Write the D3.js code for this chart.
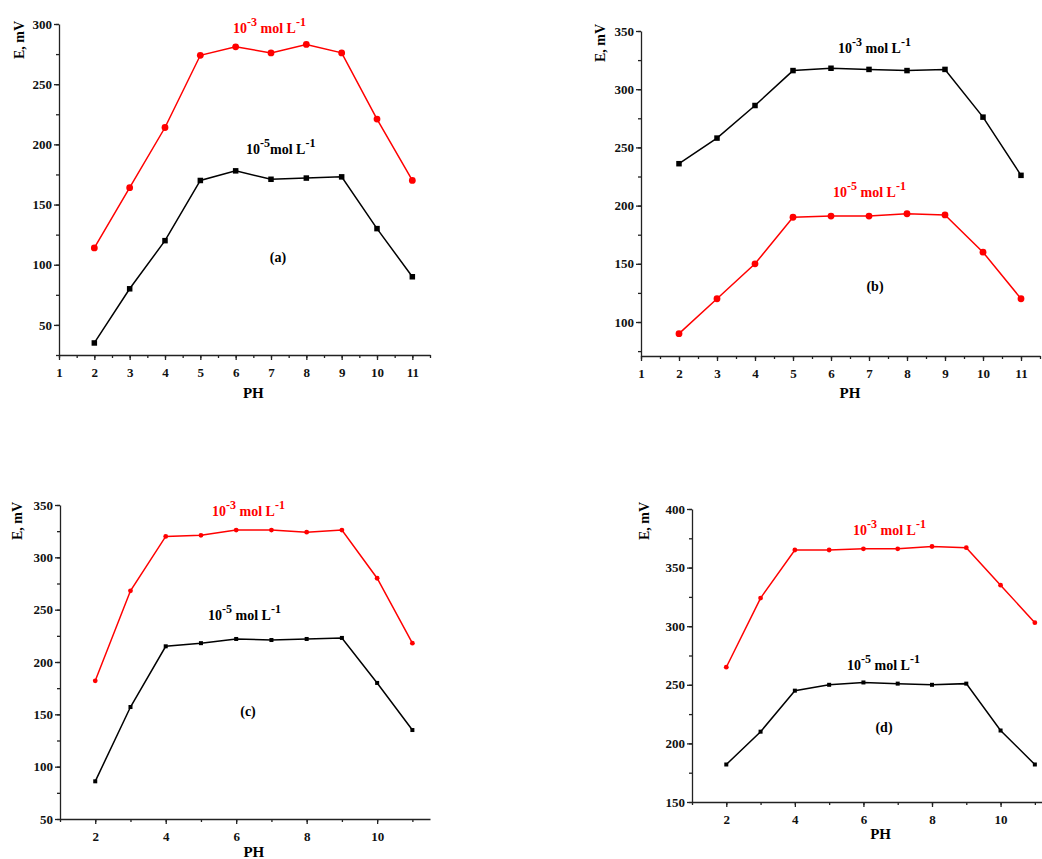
<!DOCTYPE html>
<html>
<head>
<meta charset="utf-8">
<script src="https://cdn.jsdelivr.net/npm/d3@7"></script>
<style>
    body { margin: 0; background: #fff; }
    svg { display: block; font-family: "Liberation Serif", "Times New Roman", serif; font-weight: bold; }
    .axis path, .axis line { stroke: #222; stroke-width: 1.3; }
    .axis text { font-size: 13px; font-weight: bold; fill: #111; font-family: "Liberation Serif", serif; }
</style>
</head>
<body>
<svg id="chart" width="1042" height="859"></svg>
<script>
const ph = [2, 3, 4, 5, 6, 7, 8, 9, 10, 11];

// panel (a)
const aHigh = [114, 164, 214, 274, 281, 276, 283, 276, 221, 170];
const aLow = [35, 80, 120, 170, 178, 171, 172, 173, 130, 90];
// panel (b)
const bHigh = [236, 258, 286, 316, 318, 317, 316, 317, 276, 226];
const bLow = [90, 120, 150, 190, 191, 191, 193, 192, 160, 120];
// panel (c)
const cHigh = [182, 268, 320, 321, 326, 326, 324, 326, 280, 218];
const cLow = [86, 157, 215, 218, 222, 221, 222, 223, 180, 135];
// panel (d)
const dHigh = [265, 324, 365, 365, 366, 366, 368, 367, 335, 303];
const dLow = [182, 210, 245, 250, 252, 251, 250, 251, 211, 182];

const xTicksAB = [1, 2, 3, 4, 5, 6, 7, 8, 9, 10, 11];
const xTicksCD = [2, 4, 6, 8, 10];
const yTicksA = [50, 100, 150, 200, 250, 300];
const yTicksB = [100, 150, 200, 250, 300, 350];
const yTicksC = [50, 100, 150, 200, 250, 300, 350];
const yTicksD = [150, 200, 250, 300, 350, 400];

const svg = d3.select("#chart");

const panels = [
    {
        tag: "(a)", left: 59, right: 430, top: 24, bottom: 355,
        xDomain: [1, 11.5], yDomain: [25, 300], xTicks: xTicksAB, xMinor: 0.5,
        yTicks: yTicksA, yMinor: 25, ms: 5.5, r: 3.4,
        series: [
            { values: aHigh, color: "#ff0000", shape: "circle", label: ["10", "-3", " mol L", "-1"], lx: 233, ly: 33 },
            { values: aLow, color: "#000000", shape: "square", label: ["10", "-5", "mol L", "-1"], lx: 246, ly: 154 },
        ],
        tagX: 278, tagY: 262, phY: 398, eX: 24, eY: 40,
    },
    {
        tag: "(b)", left: 641, right: 1040, top: 31, bottom: 356,
        xDomain: [1, 11.5], yDomain: [70.8, 350], xTicks: xTicksAB, xMinor: 0.5,
        yTicks: yTicksB, yMinor: 25, ms: 5.5, r: 3.4,
        series: [
            { values: bHigh, color: "#000000", shape: "square", label: ["10", "-3", " mol L", "-1"], lx: 838, ly: 53 },
            { values: bLow, color: "#ff0000", shape: "circle", label: ["10", "-5", " mol L", "-1"], lx: 833, ly: 197 },
        ],
        tagX: 875, tagY: 291, phY: 398, eX: 605, eY: 43,
    },
    {
        tag: "(c)", left: 60, right: 430, top: 505, bottom: 819,
        xDomain: [1, 11.5], yDomain: [50, 350], xTicks: xTicksCD, xMinor: 1,
        yTicks: yTicksC, yMinor: 25, ms: 4, r: 2.4,
        series: [
            { values: cHigh, color: "#ff0000", shape: "circle", label: ["10", "-3", " mol L", "-1"], lx: 212, ly: 516 },
            { values: cLow, color: "#000000", shape: "square", label: ["10", "-5", " mol L", "-1"], lx: 208, ly: 620 },
        ],
        tagX: 248, tagY: 716, phY: 857, eX: 22, eY: 521,
    },
    {
        tag: "(d)", left: 692, right: 1052, top: 509, bottom: 802,
        xDomain: [1, 11.5], yDomain: [150, 400], xTicks: xTicksCD, xMinor: 1,
        yTicks: yTicksD, yMinor: 25, ms: 4, r: 2.4,
        series: [
            { values: dHigh, color: "#ff0000", shape: "circle", label: ["10", "-3", " mol L", "-1"], lx: 853, ly: 535 },
            { values: dLow, color: "#000000", shape: "square", label: ["10", "-5", " mol L", "-1"], lx: 847, ly: 670 },
        ],
        tagX: 884, tagY: 732, phY: 839, eX: 649, eY: 521,
    },
];

panels.forEach(drawPanel);

function drawPanel(p) {
    const x = d3.scaleLinear().domain(p.xDomain).range([p.left, p.right]);
    const y = d3.scaleLinear().domain(p.yDomain).range([p.bottom, p.top]);
    const g = svg.append("g");

    // minor ticks first, then the labelled axes on top
    const xMinor = d3.range(p.xDomain[0], p.xDomain[1] + 0.001, p.xMinor);
    g.append("g")
        .attr("class", "axis")
        .attr("transform", `translate(0,${p.bottom})`)
        .call(d3.axisBottom(x).tickValues(xMinor).tickSize(3).tickFormat(""))
        .call((s) => s.select(".domain").remove());

    const yMinor = d3.range(Math.ceil(p.yDomain[0] / p.yMinor) * p.yMinor, p.yDomain[1] + 0.001, p.yMinor);
    g.append("g")
        .attr("class", "axis")
        .attr("transform", `translate(${p.left},0)`)
        .call(d3.axisLeft(y).tickValues(yMinor).tickSize(3).tickFormat(""))
        .call((s) => s.select(".domain").remove());

    g.append("g")
        .attr("class", "axis")
        .attr("transform", `translate(0,${p.bottom})`)
        .call(d3.axisBottom(x).tickValues(p.xTicks).tickSize(5).tickSizeOuter(0).tickFormat(d3.format("d")))
        .call((s) => s.selectAll("text").attr("dy", "1.1em"));

    g.append("g")
        .attr("class", "axis")
        .attr("transform", `translate(${p.left},0)`)
        .call(d3.axisLeft(y).tickValues(p.yTicks).tickSize(5).tickSizeOuter(0).tickFormat(d3.format("d")))
        .call((s) => s.selectAll("text").attr("x", -7));

    p.series.forEach((s) => {
        const pts = ph.map((v, i) => [v, s.values[i]]);
        const line = d3.line().x((d) => x(d[0])).y((d) => y(d[1]));

        g.append("path")
            .datum(pts)
            .attr("d", line)
            .attr("fill", "none")
            .attr("stroke", s.color)
            .attr("stroke-width", 1.5);

        if (s.shape === "circle") {
            g.selectAll(null)
                .data(pts)
                .enter()
                .append("circle")
                .attr("cx", (d) => x(d[0]))
                .attr("cy", (d) => y(d[1]))
                .attr("r", p.r)
                .attr("fill", s.color);
        } else {
            g.selectAll(null)
                .data(pts)
                .enter()
                .append("rect")
                .attr("x", (d) => x(d[0]) - p.ms / 2)
                .attr("y", (d) => y(d[1]) - p.ms / 2)
                .attr("width", p.ms)
                .attr("height", p.ms)
                .attr("fill", s.color);
        }

        // concentration label with superscripts
        const t = g.append("text")
            .attr("x", s.lx)
            .attr("y", s.ly)
            .attr("fill", s.color)
            .attr("font-size", 14);
        t.append("tspan").text(s.label[0]);
        t.append("tspan").attr("dy", -7).attr("font-size", 12).text(s.label[1]);
        t.append("tspan").attr("dy", 7).text(s.label[2]);
        t.append("tspan").attr("dy", -7).attr("font-size", 12).text(s.label[3]);
    });

    g.append("text")
        .attr("x", p.tagX)
        .attr("y", p.tagY)
        .attr("text-anchor", "middle")
        .attr("font-size", 14)
        .text(p.tag);

    g.append("text")
        .attr("x", x(6.5))
        .attr("y", p.phY)
        .attr("text-anchor", "middle")
        .attr("font-size", 15)
        .text("PH");

    g.append("text")
        .attr("transform", `translate(${p.eX},${p.eY}) rotate(-90)`)
        .attr("text-anchor", "middle")
        .attr("font-size", 14)
        .text("E, mV");
}
</script>
</body>
</html>
